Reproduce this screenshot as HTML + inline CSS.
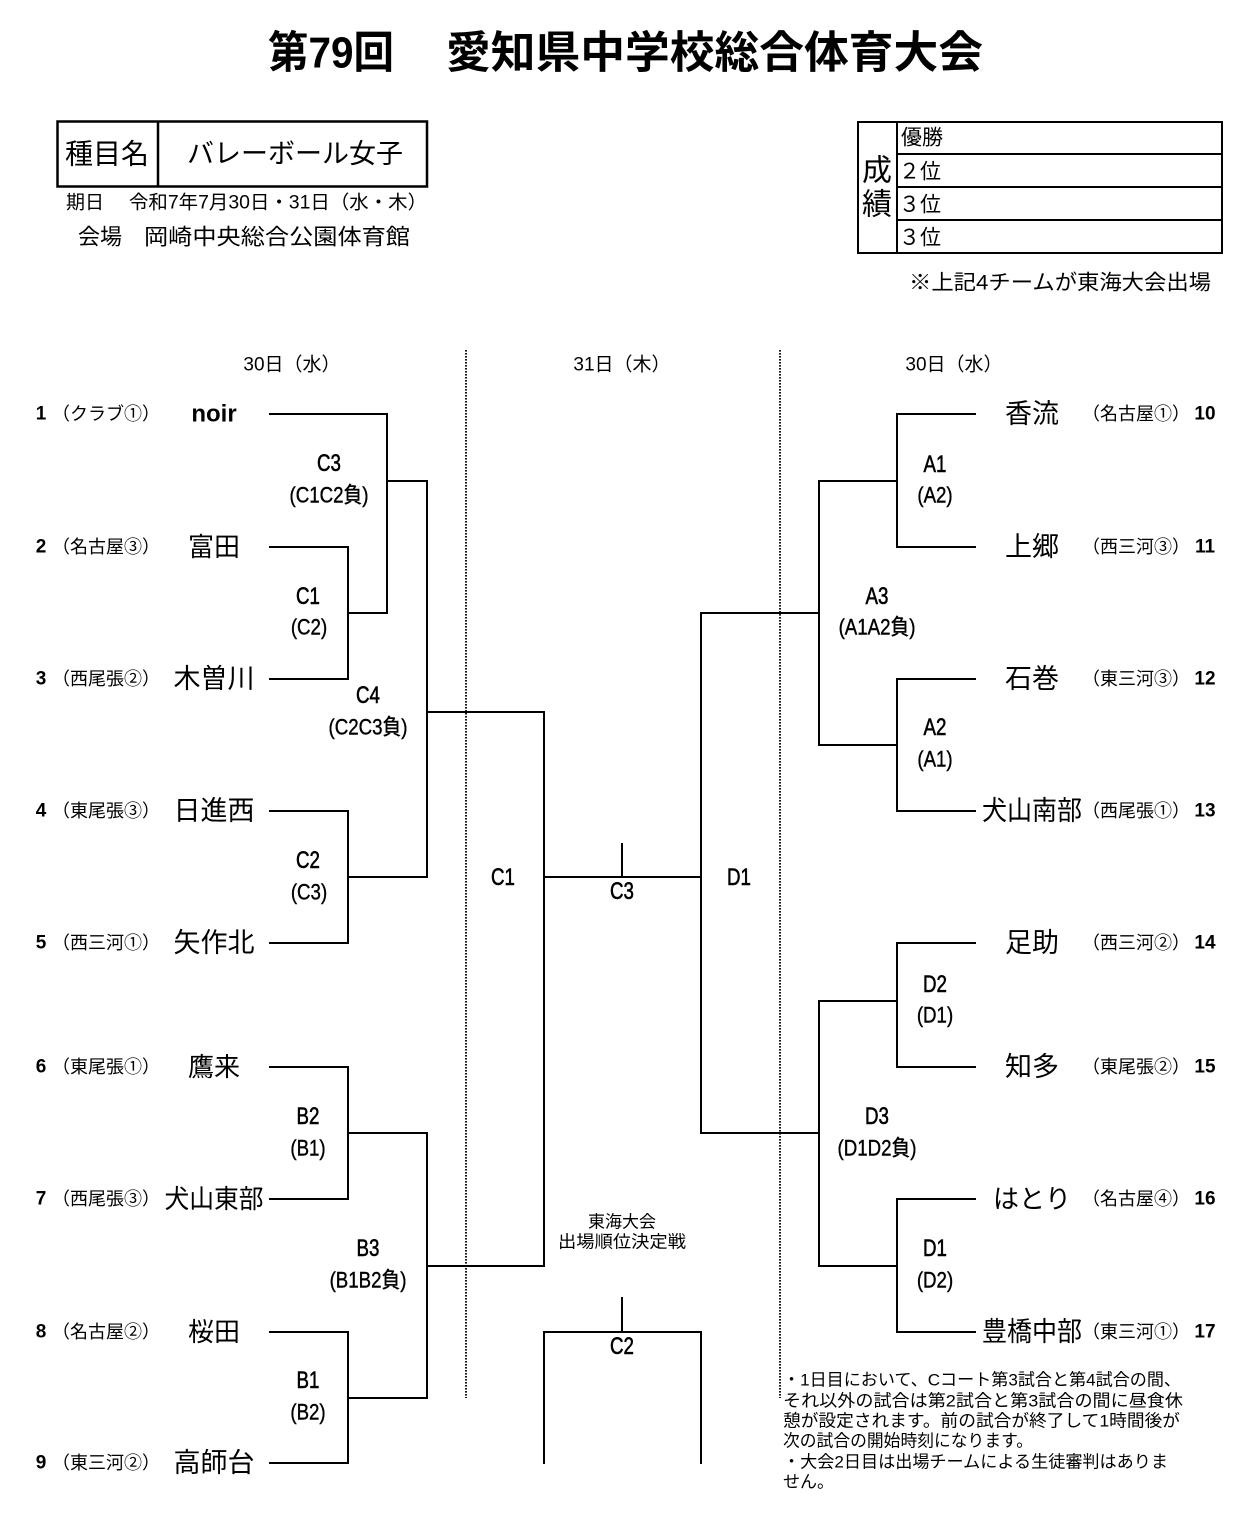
<!DOCTYPE html>
<html><head><meta charset="utf-8">
<style>
html,body{margin:0;padding:0;background:#fff;}
svg{display:block;}
text{font-family:"Liberation Sans","Noto Sans CJK JP",sans-serif;fill:#000;}
</style></head>
<body>
<svg width="1256" height="1515" viewBox="0 0 1256 1515" xmlns="http://www.w3.org/2000/svg">
<rect x="0" y="0" width="1256" height="1515" fill="#fff"/>

<!-- Title -->
<text x="268" y="53" font-size="44" font-weight="bold" dominant-baseline="central" textLength="126" lengthAdjust="spacingAndGlyphs">第79回</text>
<text x="446" y="53" font-size="44" font-weight="bold" dominant-baseline="central" textLength="537" lengthAdjust="spacingAndGlyphs">愛知県中学校総合体育大会</text>

<!-- Left header box -->
<g fill="none" stroke="#000" stroke-width="2.5">
<rect x="57.5" y="121.5" width="369.5" height="65"/>
<line x1="158" y1="121" x2="158" y2="187"/>
</g>
<text x="65" y="154" font-size="28" dominant-baseline="central" textLength="84" lengthAdjust="spacingAndGlyphs">種目名</text>
<text x="187" y="154" font-size="27" dominant-baseline="central" textLength="216" lengthAdjust="spacingAndGlyphs">バレーボール女子</text>
<text x="66" y="203" font-size="19" dominant-baseline="central">期日</text>
<text x="129" y="203" font-size="19" dominant-baseline="central" textLength="298" lengthAdjust="spacingAndGlyphs">令和7年7月30日・31日（水・木）</text>
<text x="78" y="237" font-size="22" dominant-baseline="central">会場</text>
<text x="144" y="237" font-size="22" dominant-baseline="central" textLength="266" lengthAdjust="spacingAndGlyphs">岡崎中央総合公園体育館</text>

<!-- Right result box -->
<g fill="none" stroke="#000" stroke-width="2">
<rect x="858" y="122" width="364" height="131"/>
<line x1="897" y1="121" x2="897" y2="254"/>
<line x1="897" y1="154" x2="1222" y2="154"/>
<line x1="897" y1="187" x2="1222" y2="187"/>
<line x1="897" y1="220" x2="1222" y2="220"/>
</g>
<text x="877" y="171" font-size="30" text-anchor="middle" dominant-baseline="central">成</text>
<text x="877" y="205" font-size="30" text-anchor="middle" dominant-baseline="central">績</text>
<text x="901" y="138" font-size="21" dominant-baseline="central">優勝</text>
<text x="899" y="172" font-size="21" dominant-baseline="central">２位</text>
<text x="899" y="205" font-size="21" dominant-baseline="central">３位</text>
<text x="899" y="238" font-size="21" dominant-baseline="central">３位</text>
<text x="909" y="283" font-size="21" dominant-baseline="central" textLength="302" lengthAdjust="spacingAndGlyphs">※上記4チームが東海大会出場</text>

<!-- Day headings -->
<text x="292" y="365" font-size="19" text-anchor="middle" dominant-baseline="central">30日（水）</text>
<text x="622" y="365" font-size="19" text-anchor="middle" dominant-baseline="central">31日（木）</text>
<text x="954" y="365" font-size="19" text-anchor="middle" dominant-baseline="central">30日（水）</text>

<!-- Dotted separators -->
<g stroke="#000" stroke-width="1.8" stroke-dasharray="1.6 1.4" fill="none">
<line x1="466" y1="350" x2="466" y2="1398"/>
<line x1="780" y1="350" x2="780" y2="1398"/>
</g>

<!-- Bracket lines -->
<g fill="none" stroke="#000" stroke-width="2" stroke-linecap="square" stroke-linejoin="miter">
<path d="M270,414 H387 V613 H348"/>
<path d="M270,547 H348 V679 H270"/>
<path d="M387,481 H427"/>
<path d="M270,811 H348 V943 H270"/>
<path d="M348,877 H427"/>
<path d="M427,481 V877"/>
<path d="M427,712 H544"/>
<path d="M270,1067 H348 V1199 H270"/>
<path d="M348,1133 H427"/>
<path d="M270,1332 H348 V1463 H270"/>
<path d="M348,1398 H427"/>
<path d="M427,1133 V1398"/>
<path d="M427,1266 H544"/>
<path d="M544,712 V1266"/>
<path d="M544,877 H701"/>
<path d="M622,844 V877"/>
<path d="M701,613 V1133"/>
<path d="M544,1463 V1332 H701 V1463"/>
<path d="M622,1298 V1332"/>
<path d="M975,414 H897 V547 H975"/>
<path d="M897,481 H819"/>
<path d="M975,679 H897 V811 H975"/>
<path d="M897,745 H819"/>
<path d="M819,481 V745"/>
<path d="M819,613 H701"/>
<path d="M975,943 H897 V1067 H975"/>
<path d="M897,1001 H819"/>
<path d="M975,1199 H897 V1332 H975"/>
<path d="M897,1266 H819"/>
<path d="M819,1001 V1266"/>
<path d="M819,1133 H701"/>
</g>

<!-- Left teams -->
<g font-size="19" font-weight="bold" text-anchor="middle" dominant-baseline="central">
<text x="41" y="414">1</text>
<text x="41" y="547">2</text>
<text x="41" y="679">3</text>
<text x="41" y="811">4</text>
<text x="41" y="943">5</text>
<text x="41" y="1067">6</text>
<text x="41" y="1199">7</text>
<text x="41" y="1332">8</text>
<text x="41" y="1463">9</text>
</g>
<g font-size="18" text-anchor="middle" dominant-baseline="central">
<text x="106" y="414">（クラブ①）</text>
<text x="106" y="547">（名古屋③）</text>
<text x="106" y="679">（西尾張②）</text>
<text x="106" y="811">（東尾張③）</text>
<text x="106" y="943">（西三河①）</text>
<text x="106" y="1067">（東尾張①）</text>
<text x="106" y="1199">（西尾張③）</text>
<text x="106" y="1332">（名古屋②）</text>
<text x="106" y="1463">（東三河②）</text>
</g>
<g font-size="26" text-anchor="middle" dominant-baseline="central">
<text x="214" y="414" font-weight="bold" font-size="24">noir</text>
<text x="214" y="547">富田</text>
<text x="214" y="679" font-size="27">木曽川</text>
<text x="214" y="811" font-size="27">日進西</text>
<text x="214" y="943" font-size="27">矢作北</text>
<text x="214" y="1067">鷹来</text>
<text x="214" y="1199" textLength="99" lengthAdjust="spacingAndGlyphs">犬山東部</text>
<text x="214" y="1332">桜田</text>
<text x="214" y="1463" font-size="27">高師台</text>
</g>

<!-- Right teams -->
<g font-size="27" text-anchor="middle" dominant-baseline="central">
<text x="1032" y="414">香流</text>
<text x="1032" y="547">上郷</text>
<text x="1032" y="679">石巻</text>
<text x="1032" y="811" textLength="100" lengthAdjust="spacingAndGlyphs">犬山南部</text>
<text x="1032" y="943">足助</text>
<text x="1032" y="1067">知多</text>
<text x="1032" y="1199" font-size="26">はとり</text>
<text x="1032" y="1332" textLength="100" lengthAdjust="spacingAndGlyphs">豊橋中部</text>
</g>
<g font-size="18" text-anchor="middle" dominant-baseline="central">
<text x="1136" y="414">（名古屋①）</text>
<text x="1136" y="547">（西三河③）</text>
<text x="1136" y="679">（東三河③）</text>
<text x="1136" y="811">（西尾張①）</text>
<text x="1136" y="943">（西三河②）</text>
<text x="1136" y="1067">（東尾張②）</text>
<text x="1136" y="1199">（名古屋④）</text>
<text x="1136" y="1332">（東三河①）</text>
</g>
<g font-size="19" font-weight="bold" text-anchor="middle" dominant-baseline="central">
<text x="1205" y="414">10</text>
<text x="1205" y="547">11</text>
<text x="1205" y="679">12</text>
<text x="1205" y="811">13</text>
<text x="1205" y="943">14</text>
<text x="1205" y="1067">15</text>
<text x="1205" y="1199">16</text>
<text x="1205" y="1332">17</text>
</g>

<!-- Match labels -->
<g font-size="24" text-anchor="middle" dominant-baseline="central" stroke="#000" stroke-width="0.6">
<text transform="translate(329,463) scale(0.78,1)">C3</text>
<text transform="translate(308,596) scale(0.78,1)">C1</text>
<text transform="translate(368,695) scale(0.78,1)">C4</text>
<text transform="translate(308,860) scale(0.78,1)">C2</text>
<text transform="translate(308,1116) scale(0.78,1)">B2</text>
<text transform="translate(368,1248) scale(0.78,1)">B3</text>
<text transform="translate(308,1380) scale(0.78,1)">B1</text>
<text transform="translate(503,877) scale(0.78,1)">C1</text>
<text transform="translate(622,891) scale(0.78,1)">C3</text>
<text transform="translate(739,877) scale(0.78,1)">D1</text>
<text transform="translate(622,1346) scale(0.78,1)">C2</text>
<text transform="translate(935,464) scale(0.78,1)">A1</text>
<text transform="translate(877,596) scale(0.78,1)">A3</text>
<text transform="translate(935,727) scale(0.78,1)">A2</text>
<text transform="translate(935,984) scale(0.78,1)">D2</text>
<text transform="translate(877,1116) scale(0.78,1)">D3</text>
<text transform="translate(935,1248) scale(0.78,1)">D1</text>
</g>
<g font-size="22" text-anchor="middle" dominant-baseline="central" stroke="#000" stroke-width="0.4">
<text transform="translate(329,496) scale(0.85,1)">(C1C2負)</text>
<text transform="translate(309,628) scale(0.85,1)">(C2)</text>
<text transform="translate(368,728) scale(0.85,1)">(C2C3負)</text>
<text transform="translate(309,893) scale(0.85,1)">(C3)</text>
<text transform="translate(308,1149) scale(0.85,1)">(B1)</text>
<text transform="translate(368,1281) scale(0.85,1)">(B1B2負)</text>
<text transform="translate(308,1413) scale(0.85,1)">(B2)</text>
<text transform="translate(935,496) scale(0.85,1)">(A2)</text>
<text transform="translate(877,628) scale(0.85,1)">(A1A2負)</text>
<text transform="translate(935,760) scale(0.85,1)">(A1)</text>
<text transform="translate(935,1016) scale(0.85,1)">(D1)</text>
<text transform="translate(877,1149) scale(0.85,1)">(D1D2負)</text>
<text transform="translate(935,1281) scale(0.85,1)">(D2)</text>
</g>

<!-- Center caption -->
<text x="622" y="1222" font-size="17" text-anchor="middle" dominant-baseline="central">東海大会</text>
<text x="622" y="1242" font-size="17" text-anchor="middle" dominant-baseline="central" textLength="128" lengthAdjust="spacingAndGlyphs">出場順位決定戦</text>

<!-- Notes -->
<g font-size="17" dominant-baseline="central">
<text x="783" y="1380" textLength="398" lengthAdjust="spacingAndGlyphs">・1日目において、Cコート第3試合と第4試合の間、</text>
<text x="783" y="1401" textLength="400" lengthAdjust="spacingAndGlyphs">それ以外の試合は第2試合と第3試合の間に昼食休</text>
<text x="783" y="1421" textLength="397" lengthAdjust="spacingAndGlyphs">憩が設定されます。前の試合が終了して1時間後が</text>
<text x="783" y="1441" textLength="250" lengthAdjust="spacingAndGlyphs">次の試合の開始時刻になります。</text>
<text x="783" y="1462" textLength="385" lengthAdjust="spacingAndGlyphs">・大会2日目は出場チームによる生徒審判はありま</text>
<text x="783" y="1482">せん。</text>
</g>
</svg>
</body></html>
